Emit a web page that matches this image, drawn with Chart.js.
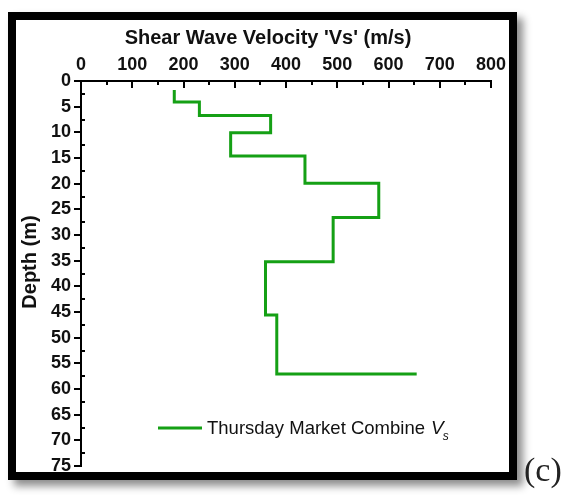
<!DOCTYPE html>
<html>
<head>
<meta charset="utf-8">
<script src="https://cdn.jsdelivr.net/npm/chart.js@4/dist/chart.umd.min.js"></script>
<style>
  html, body { margin: 0; padding: 0; background: #fff; }
  body { width: 569px; height: 495px; position: relative; overflow: hidden; }
  #frame {
    position: absolute; left: 8px; top: 12px; width: 493px; height: 452px;
    border: 8px solid #000; background: #fff;
    box-shadow: 6px 6px 8px rgba(0,0,0,0.45);
  }
  #wrap { position: absolute; left: 0; top: 0; width: 569px; height: 495px; }
  #label {
    position: absolute; left: 524px; top: 450px; line-height: 40px;
    font-family: "Liberation Serif", "DejaVu Serif", serif; font-size: 34px; color: #222;
  }
</style>
</head>
<body>
<div id="frame"></div>
<div id="wrap"><canvas id="vsChart" width="569" height="495"></canvas></div>
<div id="label">(c)</div>
<script>
// layer tops / bottoms (m) and shear wave velocity (m/s)
const layerTop    = [1.75, 4.1, 6.7, 10.1, 14.6, 19.9, 26.6, 35.2, 45.6, 57.1];
const layerBottom = [4.1, 6.7, 10.1, 14.6, 19.9, 26.6, 35.2, 45.6, 57.1, 57.1];
const vsValues    = [182, 231, 370, 292, 437, 581, 492, 360, 382, 655];
const xTicks = [0, 100, 200, 300, 400, 500, 600, 700, 800];
const yTicks = [0, 5, 10, 15, 20, 25, 30, 35, 40, 45, 50, 55, 60, 65, 70, 75];
const seriesName = 'Thursday Market Combine';

const green = '#15a015';

// step profile: each layer is a vertical segment at its velocity
const profile = [];
for (let i = 0; i < vsValues.length; i++) {
    profile.push({ x: vsValues[i], y: layerTop[i] });
    profile.push({ x: vsValues[i], y: layerBottom[i] });
}

const extras = {
    id: 'extras',
    afterDraw(chart) {
        const ctx = chart.ctx;
        const xs = chart.scales.x, ys = chart.scales.y;
        const top = chart.chartArea.top, left = chart.chartArea.left;
        ctx.save();
        ctx.strokeStyle = '#000';
        ctx.lineWidth = 2;
        // x ticks point down into the plot
        for (let v = 0; v <= 800; v += 50) {
            const px = Math.round(xs.getPixelForValue(v));
            const len = v % 100 === 0 ? 7 : 4;
            ctx.beginPath(); ctx.moveTo(px, top); ctx.lineTo(px, top + len); ctx.stroke();
        }
        // y ticks: major to the left, minor to the right
        for (let v = 0; v <= 75; v += 2.5) {
            const py = Math.round(ys.getPixelForValue(v));
            ctx.beginPath();
            if (v % 5 === 0) { ctx.moveTo(left - 7, py); ctx.lineTo(left, py); }
            else { ctx.moveTo(left, py); ctx.lineTo(left + 4, py); }
            ctx.stroke();
        }
        // axis titles
        ctx.fillStyle = '#111';
        ctx.font = 'bold 20px "Liberation Sans", Arial, sans-serif';
        ctx.textAlign = 'center';
        ctx.textBaseline = 'middle';
        ctx.fillText("Shear Wave Velocity 'Vs' (m/s)", 268, 38);
        ctx.save();
        ctx.translate(30, 262);
        ctx.rotate(-Math.PI / 2);
        ctx.fillText('Depth (m)', 0, 0);
        ctx.restore();
        // legend
        ctx.strokeStyle = green;
        ctx.lineWidth = 3;
        ctx.beginPath(); ctx.moveTo(158, 428); ctx.lineTo(202, 428); ctx.stroke();
        ctx.textAlign = 'left';
        ctx.font = '18.5px "Liberation Sans", Arial, sans-serif';
        ctx.fillText(seriesName, 207, 429);
        const w = ctx.measureText(seriesName + ' ').width;
        ctx.font = 'italic 19px "Liberation Sans", Arial, sans-serif';
        ctx.fillText('V', 208 + w, 429);
        const wv = ctx.measureText('V').width;
        ctx.font = 'italic 12px "Liberation Sans", Arial, sans-serif';
        ctx.fillText('s', 207 + w + wv, 437);
        ctx.restore();
    }
};

const tickFont = { family: '"Liberation Sans", Arial', size: 18, weight: 'bold' };

new Chart(document.getElementById('vsChart'), {
    type: 'scatter',
    data: {
        datasets: [{
            label: seriesName,
            data: profile,
            showLine: true,
            borderColor: green,
            borderWidth: 3,
            pointRadius: 0,
            fill: false
        }]
    },
    options: {
        responsive: false,
        animation: false,
        layout: { padding: { left: 0, top: 0, right: 78, bottom: 29 } },
        plugins: { legend: { display: false }, tooltip: { enabled: false } },
        scales: {
            x: {
                type: 'linear', position: 'top', min: 0, max: 800,
                afterFit(scale) { scale.height = 81; },
                afterBuildTicks(scale) { scale.ticks = xTicks.map(v => ({ value: v })); },
                grid: { display: false, drawTicks: false },
                border: { display: true, color: '#000', width: 2 },
                ticks: { color: '#111', padding: 5, font: tickFont }
            },
            y: {
                type: 'linear', reverse: true, min: 0, max: 75,
                afterFit(scale) { scale.width = 81; },
                afterBuildTicks(scale) { scale.ticks = yTicks.map(v => ({ value: v })); },
                grid: { display: false, drawTicks: false },
                border: { display: true, color: '#000', width: 2 },
                ticks: { color: '#111', padding: 10, font: tickFont }
            }
        }
    },
    plugins: [extras]
});
</script>
</body>
</html>
